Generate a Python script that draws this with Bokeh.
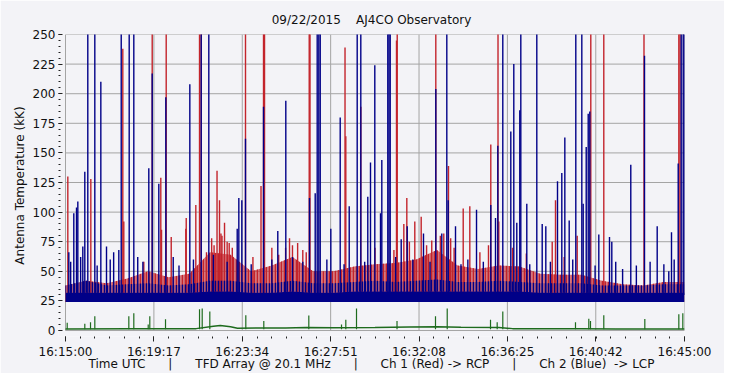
from bokeh.plotting import figure
from bokeh.models import FixedTicker, Range1d
from bokeh.embed import file_html
from bokeh.resources import INLINE

# ---------------- data (time = seconds after 16:15:00 UTC) ----------------
tick_secs = [0, 257, 514, 771, 1028, 1285, 1542, 1800]
tick_labels = ["16:15:00", "16:19:17", "16:23:34", "16:27:51",
               "16:32:08", "16:36:25", "16:40:42", "16:45:00"]
minor_secs = [k * 1800 / 42 for k in range(43)]
y_ticks = [0, 25, 50, 75, 100, 125, 150, 175, 200, 225, 250]
y_minor = [v for v in range(0, 251, 5)]

# dense noise band envelopes, read once per minute
env_t = [0, 60, 120, 180, 240, 300, 360, 420, 480, 540, 600, 660, 720, 780, 840,
         900, 960, 1020, 1080, 1140, 1200, 1260, 1320, 1380, 1440, 1500, 1560,
         1620, 1680, 1740, 1800]
red_top = [38, 42, 40, 44, 50, 45, 48, 66, 64, 50, 55, 62, 50, 50, 54,
           56, 57, 60, 68, 55, 52, 55, 54, 48, 47, 47, 42, 39, 38, 41, 41]
blue_low = [24, 24, 24, 24, 24, 24, 24, 24, 24, 24, 24, 24, 24, 24, 24,
            24, 24, 24, 24, 24, 24, 24, 24, 24, 24, 24, 24, 24, 24, 24, 24]
blue_top = [32, 32, 32, 32, 32, 32, 32, 33, 33, 32, 32, 33, 32, 32, 33,
            33, 33, 33, 33, 33, 33, 33, 33, 32, 32, 32, 32, 32, 32, 32, 32]
blue_fringe = [38, 42, 38, 39, 40, 38, 39, 42, 42, 40, 40, 42, 40, 40, 41,
               42, 41, 42, 43, 41, 41, 42, 41, 40, 40, 40, 38, 38, 38, 39, 39]

# Ch 1 (red, RCP) bursts: time, peak (kK)
red_t = [6.7, 73.6, 166.6, 169.5, 227.7, 252.1, 277.1, 279.2, 292.8, 307.4, 349.8,
         351.0, 378.9, 389.7, 394.6, 440.6, 447.8, 462.4, 523.4, 568.5, 575.8, 578.7,
         651.4, 708.7, 711.0, 812.8, 815.1, 858.7, 962.5, 964.6, 983.8, 992.5, 1015.7,
         1034.3, 1076.8, 1113.7, 1156.5, 1175.7, 1236.7, 1257.7, 1260.0, 1415.3,
         1424.9, 1488.0, 1527.5, 1565.3, 1682.2, 1783.5, 1787.0,
         455.0, 470.0, 600.0, 660.0, 690.0, 900.0, 1000.0, 1050.0, 1090.0, 1120.0,
         1300.0, 1340.0, 1450.0,
         410.0, 425.0, 432.0, 452.0, 476.0, 485.0, 545.0, 620.0, 640.0, 675.0, 700.0,
         955.0, 1065.0, 1100.0, 1130.0, 1205.0, 1230.0]
red_v = [130, 128, 238, 92, 58, 300, 129, 85, 300, 79, 86,
         95, 106, 300, 300, 135, 110, 91, 300, 122, 300, 300,
         78, 300, 300, 239, 164, 189, 245, 300, 90, 112, 92,
         96, 300, 139, 103, 105, 157, 300, 92, 75,
         110, 80, 300, 300, 300, 300, 300,
         80, 75, 70, 72, 68, 70, 75, 72, 80, 78,
         70, 65, 62,
         66, 78, 72, 82, 74, 70, 62, 64, 70, 74, 66,
         68, 76, 82, 70, 66, 72]

# Ch 2 (blue, LCP) bursts: time, peak (kK)
blue_t = [9.6, 24.1, 32.0, 35.8, 50.3, 56.1, 64.8, 85.2, 102.7, 119.2, 155.0, 162.0,
          185.2, 198.6, 242.2, 252.1, 271.3, 291.7, 313.2, 361.5, 394.6, 416.7, 499.3,
          504.0, 512.7, 523.4, 575.8, 617.3, 640.6, 709.5, 726.1, 731.9, 736.6, 740.7,
          771.5, 798.8, 825.0, 848.2, 858.7, 879.0, 886.9, 899.4, 916.0, 919.8, 937.2,
          940.7, 944.2, 976.2, 993.7, 1041.0, 1076.8, 1094.2, 1108.8, 1112.9, 1134.1,
          1195.2, 1236.7, 1250.4, 1257.1, 1271.6, 1294.9, 1303.6, 1312.3, 1321.0,
          1324.0, 1341.4, 1370.5, 1386.2, 1396.7, 1430.7, 1443.2, 1452.0, 1464.7,
          1483.9, 1501.4, 1505.4, 1514.2, 1520.0, 1524.6, 1550.8, 1581.9, 1588.6,
          1643.8, 1683.7, 1720.6, 1754.3, 1762.2, 1781.7, 1790.4, 1796.2, 1799.1,
          15.0, 44.0, 92.0, 130.0, 140.0, 210.0, 225.0, 330.0, 372.0, 430.0, 470.0,
          540.0, 600.0, 660.0, 690.0, 760.0, 810.0, 870.0, 960.0, 1010.0, 1060.0,
          1150.0, 1170.0, 1215.0, 1350.0, 1410.0, 1475.0, 1540.0, 1600.0, 1620.0,
          1660.0, 1700.0, 1740.0, 1770.0]
blue_v = [66, 99, 104, 109, 71, 134, 300, 300, 210, 71, 68, 300,
          300, 300, 137, 217, 124, 197, 62, 208, 300, 300, 86,
          112, 110, 162, 189, 84, 194, 112, 116, 300, 300, 300,
          86, 180, 105, 300, 300, 113, 142, 224, 99, 144, 300,
          300, 300, 77, 88, 82, 204, 82, 300, 110, 88,
          102, 106, 95, 156, 300, 168, 225, 91, 186,
          300, 107, 300, 90, 88, 126, 133, 163, 93,
          300, 300, 107, 155, 183, 185, 81, 79, 75,
          140, 232, 88, 50, 83, 141, 300, 300, 300,
          58, 62, 55, 60, 66, 62, 58, 55, 60, 64, 58,
          56, 60, 62, 58, 60, 56, 58, 62, 60, 58,
          56, 60, 58, 56, 58, 60, 55, 58, 52,
          55, 58, 56, 60]

# Green channel: slow level and short spikes
green_t = [0, 180, 380, 430, 450, 480, 500, 640, 700, 780, 900, 1000, 1080, 1150,
           1260, 1300, 1400, 1500, 1600, 1700, 1800]
green_v = [1.2, 1.4, 1.6, 3.6, 4.2, 3.2, 2.0, 2.2, 2.6, 2.4, 2.6, 3.0, 3.2, 2.8,
           2.6, 1.6, 1.4, 1.6, 1.2, 1.2, 1.2]
gspk_t = [4.9, 56.1, 72.7, 85.2, 184.1, 198.6, 240.5, 245.1, 290.8, 389.7, 397.5,
          419.6, 524.3, 576.6, 707.5, 802.6, 815.1, 846.2, 964.0, 1075.9, 1110.0,
          1235.9, 1255.3, 1271.6, 1483.0, 1521.7, 1526.6, 1565.3, 1684.6, 1783.5, 1795.1]
gspk_v = [6.5, 5.8, 7, 12, 12, 14.5, 5, 12, 9.5, 18, 18.5,
          16, 13, 8, 12.6, 5, 9, 18.7, 8, 12, 18.5,
          9, 7, 16, 7, 10, 8, 13, 9.7, 13.7, 14.6]

title_text = "09/22/2015\u00a0\u00a0\u00a0\u00a0AJ4CO Observatory"
sp = "\u00a0" * 6
xlabel_text = ("Time UTC" + sp + "|" + sp + "TFD Array @ 20.1 MHz" + sp + "|" + sp +
               "Ch 1 (Red) -> RCP" + sp + "|" + sp + "Ch 2 (Blue)\u00a0\u00a0-> LCP")
ylabel_text = "Antenna Temperature (kK)"

# ---------------- styling ----------------
BG = "#F3F3F7"
RED = "#C3242C"
BLUE = "#000088"
GREEN = "#1E6B1E"
GRID = "#A4A4A4"
FONT = "DejaVu Sans"
TXT = "#111111"

p = figure(width=724, height=373, output_backend="svg", toolbar_location=None,
           x_range=Range1d(-20.4, 1800), y_range=Range1d(-5.05, 250),
           min_border_left=58, min_border_right=40, min_border_top=34,
           min_border_bottom=36)
p.background_fill_color = BG
p.border_fill_color = BG
p.outline_line_color = None
p.xgrid.visible = False
p.ygrid.visible = False

p.title.text = title_text
p.title.align = "center"
p.title.text_font = FONT
p.title.text_font_size = "12px"
p.title.text_font_style = "normal"
p.title.text_color = TXT
p.title.standoff = 15

# grid lines drawn from the tick arrays
p.segment(x0=tick_secs, x1=tick_secs, y0=[y_ticks[0]] * len(tick_secs),
          y1=[y_ticks[-1]] * len(tick_secs), line_color=GRID, line_width=1)
p.segment(x0=[tick_secs[0]] * len(y_ticks), x1=[tick_secs[-1]] * len(y_ticks),
          y0=y_ticks, y1=y_ticks, line_color=GRID, line_width=1)

# Ch 1 red
p.varea(x=env_t, y1=blue_low, y2=red_top, fill_color=RED, fill_alpha=0.6,
        hatch_pattern="|", hatch_color=RED, hatch_scale=3, hatch_weight=1.5)
p.segment(x0=red_t, x1=red_t, y0=[30] * len(red_t), y1=red_v,
          line_color=RED, line_width=1.4)
# Ch 2 blue
p.varea(x=env_t, y1=blue_top, y2=blue_fringe, fill_color=BLUE, fill_alpha=0.25,
        hatch_pattern="|", hatch_color=BLUE, hatch_scale=3, hatch_weight=1.2)
p.varea(x=env_t, y1=blue_low, y2=blue_top, fill_color=BLUE, fill_alpha=1.0)
p.segment(x0=blue_t, x1=blue_t, y0=[30] * len(blue_t), y1=blue_v,
          line_color=BLUE, line_width=1.4)
# green
p.line(x=green_t, y=green_v, line_color=GREEN, line_width=1.5)
p.segment(x0=gspk_t, x1=gspk_t, y0=[1] * len(gspk_t), y1=gspk_v,
          line_color=GREEN, line_width=1.2)

# axes
p.xaxis.ticker = FixedTicker(ticks=tick_secs, minor_ticks=minor_secs)
p.xaxis.major_label_overrides = {t: l for t, l in zip(tick_secs, tick_labels)}
p.yaxis.ticker = FixedTicker(ticks=y_ticks, minor_ticks=y_minor)
for ax in (p.xaxis, p.yaxis):
    ax.axis_line_color = None
    ax.major_tick_line_color = "#222222"
    ax.minor_tick_line_color = "#222222"
    ax.major_label_text_font = FONT
    ax.major_label_text_font_size = "12px"
    ax.major_label_text_color = TXT
    ax.axis_label_text_font = FONT
    ax.axis_label_text_font_size = "12px"
    ax.axis_label_text_font_style = "normal"
    ax.axis_label_text_color = TXT
p.xaxis.major_tick_in = 0
p.xaxis.major_tick_out = 5
p.xaxis.minor_tick_in = 0
p.xaxis.minor_tick_out = 2
p.xaxis.major_label_standoff = 3
p.xaxis.axis_label_standoff = -5
p.xaxis.axis_label = xlabel_text
p.yaxis.major_tick_in = 4
p.yaxis.major_tick_out = 0
p.yaxis.minor_tick_in = 2
p.yaxis.minor_tick_out = 0
p.yaxis.major_label_standoff = 3
p.yaxis.axis_label_standoff = 3
p.yaxis.axis_label = ylabel_text

open("out.html", "w").write(file_html(p, INLINE))
